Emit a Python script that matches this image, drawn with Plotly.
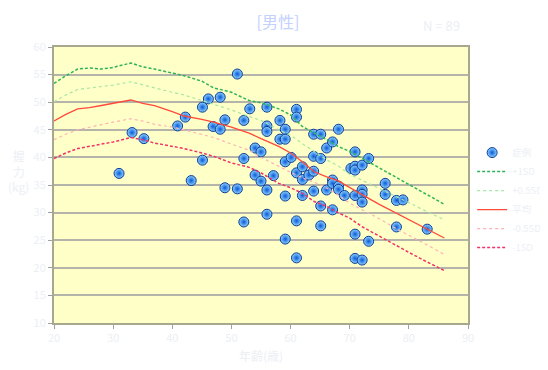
import plotly.graph_objects as go

# Patients: age (years), grip strength (kg)
patient_age = [31.0, 33.2, 35.2, 40.9, 42.2, 43.2, 45.1, 45.1, 46.1, 46.9, 48.1, 48.1, 48.9, 48.9,
               51.0, 51.0, 52.1, 52.1, 52.1, 53.1, 54.0, 55.0, 54.0, 55.0, 56.0, 56.0, 56.0, 56.0,
               56.0, 57.1, 58.2, 58.2, 59.1, 59.1, 59.1, 59.1, 59.1, 60.1, 61.0, 61.0, 61.0, 61.0,
               61.0, 62.0, 62.0, 62.0, 63.1, 63.9, 63.9, 63.9, 63.9, 65.1, 65.1, 65.1, 65.1, 66.1,
               66.1, 67.1, 67.1, 67.1, 67.1, 68.1, 68.1, 68.1, 69.1, 70.2, 70.9, 70.9, 70.9, 70.9,
               70.9, 70.9, 72.1, 72.1, 72.1, 72.1, 72.1, 73.2, 73.2, 76.0, 76.0, 77.9, 77.9, 79.0,
               83.1]
patient_grip = [37.1, 44.5, 43.4, 45.7, 47.3, 35.8, 39.5, 49.1, 50.6, 45.6, 45.1, 50.9, 46.8, 34.5,
                55.1, 34.3, 46.7, 39.8, 28.3, 48.8, 41.7, 41.0, 36.8, 35.7, 49.1, 45.7, 44.7, 34.1,
                29.7, 36.7, 46.7, 43.3, 45.1, 43.3, 39.2, 33.0, 25.2, 40.0, 48.7, 47.3, 37.2, 28.5,
                21.8, 38.3, 36.0, 33.1, 36.8, 44.2, 40.2, 37.5, 33.9, 44.2, 39.8, 31.2, 27.6, 41.7,
                34.1, 42.8, 35.9, 35.3, 30.5, 45.1, 34.8, 34.2, 33.1, 38.0, 41.0, 38.4, 37.7, 33.1,
                26.1, 21.7, 38.6, 34.1, 33.3, 31.9, 21.4, 39.8, 24.8, 35.3, 33.3, 32.2, 27.4, 32.3,
                27.0]

# Reference curves
ref_age = [20, 22, 24, 26, 28, 30, 33, 35, 37, 40, 42, 45, 47, 50, 53, 55, 58, 60, 62, 64, 66,
           68, 70, 72, 75, 78, 80, 83, 86]
plus1sd = [53.4, 54.8, 56.0, 56.2, 56.0, 56.3, 57.1, 56.4, 56.0, 55.2, 54.8, 53.8, 52.6, 51.8,
           50.3, 49.9, 48.8, 47.7, 45.6, 44.4, 43.3, 42.0, 41.1, 39.9, 38.1, 36.3, 35.1, 33.3, 31.5]
plus05sd = [50.1, 51.3, 52.3, 52.6, 52.8, 53.1, 53.7, 53.2, 52.6, 51.8, 51.3, 50.3, 49.6, 48.6,
            47.4, 46.7, 45.0, 44.0, 42.5, 41.0, 39.6, 38.5, 36.9, 35.9, 34.4, 32.8, 31.8, 30.2, 28.7]
mean = [46.6, 47.8, 48.8, 49.0, 49.4, 49.8, 50.4, 49.8, 49.4, 48.3, 47.5, 46.9, 46.4, 45.5,
        44.4, 43.4, 42.0, 40.8, 39.2, 37.4, 36.5, 35.8, 34.5, 33.3, 31.5, 29.8, 28.7, 27.0, 25.4]
minus05sd = [43.2, 44.2, 45.0, 45.5, 46.0, 46.4, 47.0, 46.6, 46.0, 45.5, 45.0, 44.2, 43.6, 42.4,
             41.3, 40.0, 38.3, 37.3, 36.3, 35.5, 34.5, 33.2, 31.7, 30.6, 28.9, 27.0, 25.9, 24.2, 22.4]
minus1sd = [39.8, 40.8, 41.6, 42.0, 42.3, 42.8, 43.6, 43.2, 42.6, 42.0, 41.6, 40.8, 40.2, 39.0,
            38.2, 37.2, 35.3, 34.5, 33.5, 32.0, 31.2, 30.0, 29.0, 27.5, 25.7, 23.9, 22.8, 21.1, 19.5]

x_ticks = [20, 30, 40, 50, 60, 70, 80, 90]
y_ticks = [10, 15, 20, 25, 30, 35, 40, 45, 50, 55, 60]

txt = "#eceff5"
font = "Noto Sans CJK JP, Noto Sans, sans-serif"

fig = go.Figure()
fig.add_trace(go.Scatter(
    x=patient_age, y=patient_grip, mode="markers", name="症例",
    marker=dict(size=10, color="#8fd4ff", symbol="circle",
                gradient=dict(type="radial", color="#0a58d8"),
                line=dict(color="#0a3c96", width=1))))
fig.add_trace(go.Scatter(x=ref_age, y=plus1sd, mode="lines", name="+1SD",
                         line=dict(color="#2db35a", width=1.5, dash="3px,2px")))
fig.add_trace(go.Scatter(x=ref_age, y=plus05sd, mode="lines", name="+0.5SD",
                         line=dict(color="#a6e6a6", width=1.2, dash="dot")))
fig.add_trace(go.Scatter(x=ref_age, y=mean, mode="lines", name="平均",
                         line=dict(color="#ff4a3a", width=1.3)))
fig.add_trace(go.Scatter(x=ref_age, y=minus05sd, mode="lines", name="-0.5SD",
                         line=dict(color="#ffb0b8", width=1.2, dash="dot")))
fig.add_trace(go.Scatter(x=ref_age, y=minus1sd, mode="lines", name="-1SD",
                         line=dict(color="#f0336a", width=1.5, dash="3px,2px")))

fig.update_layout(
    width=540, height=362,
    margin=dict(l=46, r=80, t=39, b=47, autoexpand=False),
    paper_bgcolor="white", plot_bgcolor="#ffffc8",
    font=dict(family=font, size=10, color=txt),
    title=dict(text="[男性]", x=0.5, xanchor="center", y=0.96, yanchor="middle",
               font=dict(size=16, color="#c4d0ff", family=font)),
    showlegend=True,
    legend=dict(x=1.01, y=0.67, xanchor="left", yanchor="top",
                font=dict(size=9.5, color=txt), tracegroupgap=0,
                bgcolor="rgba(0,0,0,0)", itemwidth=30),
    xaxis=dict(range=[20, 90], tickvals=x_ticks, showgrid=False, zeroline=False,
               showline=True, linecolor="#a8a88c", linewidth=2, mirror=True,
               ticks="outside", tickcolor="#a0a0a0", ticklen=4,
               tickfont=dict(size=11, color=txt),
               title=dict(text="年齢(歳)", font=dict(size=12, color=txt), standoff=8)),
    yaxis=dict(range=[10, 60], tickvals=y_ticks, showgrid=True, gridcolor="#b4b4aa",
               gridwidth=1.5, zeroline=False,
               showline=True, linecolor="#a8a88c", linewidth=2, mirror=True,
               ticks="outside", tickcolor="#a0a0a0", ticklen=4,
               tickfont=dict(size=11, color=txt)),
    annotations=[
        dict(text="N = 89", x=0.935, y=1.035, xref="paper", yref="paper",
             xanchor="center", yanchor="bottom", showarrow=False,
             font=dict(size=13, color=txt)),
        dict(text="握<br>力<br>(kg)", x=-0.085, y=0.55, xref="paper", yref="paper",
             xanchor="center", yanchor="middle", showarrow=False,
             font=dict(size=12, color=txt)),
    ],
)

fig.write_html("out.html")
